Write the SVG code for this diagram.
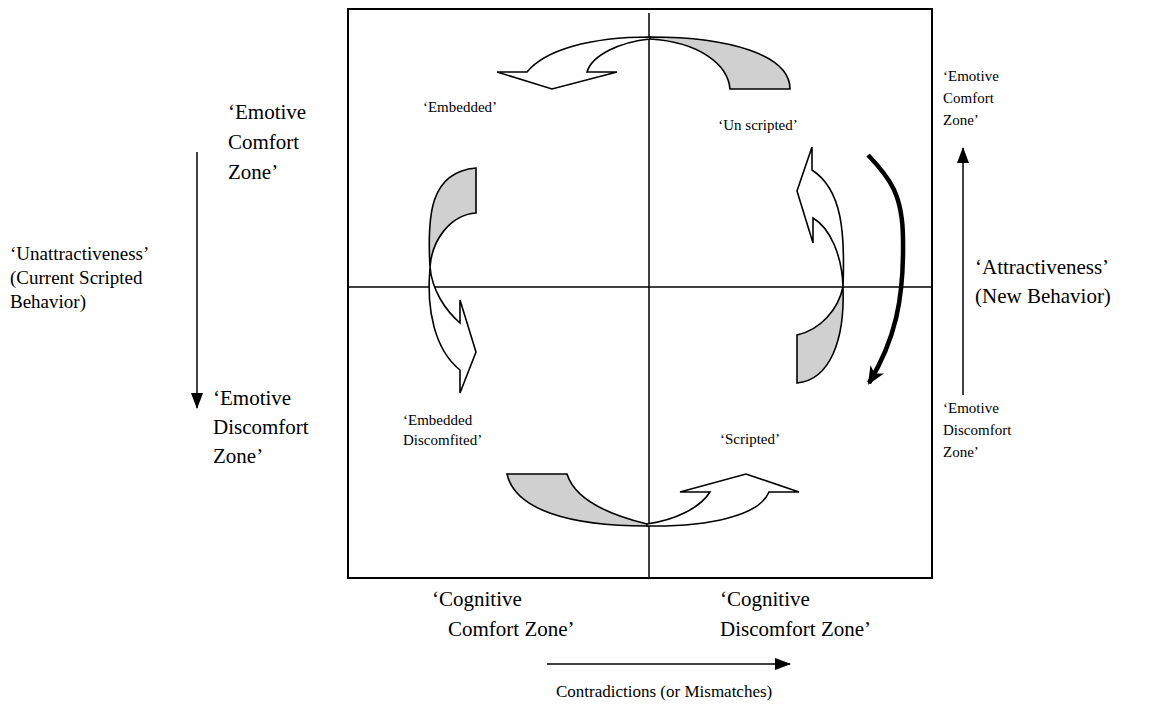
<svg xmlns="http://www.w3.org/2000/svg" width="1155" height="709" viewBox="0 0 1155 709" font-family="'Liberation Serif', 'Times New Roman', Times, 'DejaVu Serif', serif">
  <defs>
    <style>
      .frame { fill: none; stroke: #000; stroke-width: 2; }
      .axis { fill: none; stroke: #000; stroke-width: 1.5; }
      .body { fill: #fff; stroke: #000; stroke-width: 1.6; stroke-linejoin: miter; }
      .under { fill: #d0d0d0; stroke: #000; stroke-width: 1.6; }
      .flow { fill: none; stroke: #000; stroke-width: 1.5; }
      .thick { fill: none; stroke: #000; stroke-width: 4.5; stroke-linecap: butt; }
      text { font-family: 'Liberation Serif', 'Times New Roman', Times, 'DejaVu Serif', serif; fill: #000; }
      .big { font-size: 21px; }
      .mid { font-size: 19px; }
      .small { font-size: 15px; }
      .caption { font-size: 17px; }
    </style>
    <marker id="head" viewBox="0 0 16 12" refX="15" refY="6" markerWidth="16" markerHeight="12" markerUnits="userSpaceOnUse" orient="auto">
      <path d="M0,0 L16,6 L0,12 Z" fill="#000"/>
    </marker>
    <marker id="headThick" viewBox="0 0 18 16" refX="16" refY="8" markerWidth="18" markerHeight="16" markerUnits="userSpaceOnUse" orient="auto">
      <path d="M0,0 L18,8 L0,16 L5,8 Z" fill="#000"/>
    </marker>
  </defs>

  <rect width="1155" height="709" fill="#fff"/>

  <!-- quadrant frame and axes -->
  <g id="frame">
    <rect class="frame" x="348" y="9" width="584" height="569"/>
    <line class="axis" x1="649" y1="13" x2="649" y2="578"/>
    <line class="axis" x1="348" y1="287" x2="932" y2="287"/>
  </g>

  <!-- curved block arrows, one per quadrant transition -->
  <g id="arrow-top">
    <path class="under" d="M650,37 C730,37 790,55 790,89 L730,89 C728,65 700,42 650,39 Z"/>
    <path class="body" d="M650,37 C590,37 545,50 527,72 L497,72 L552,89 L617,72 L587,72 C592,55 620,42 650,39 Z"/>
  </g>
  <g id="arrow-left">
    <path class="under" d="M476,168 L476,213 C450,215 432,240 430,267 C427,215 430,172 476,168 Z"/>
    <path class="body" d="M430,267 C426,310 435,350 460,370 L460,393 L476,352 L460,300 L460,323 C445,310 432,290 430,267 Z"/>
  </g>
  <g id="arrow-bottom">
    <path class="under" d="M507,474 L567,474 C575,500 610,515 647,524 L647,526 C570,526 515,510 507,474 Z"/>
    <path class="body" d="M647,524 C675,520 700,508 710,492 L680,492 L746,474 L799,492 L769,492 C760,515 710,527 647,526 Z"/>
  </g>
  <g id="arrow-right">
    <path class="under" d="M843,287 C845,340 830,380 797,383 L797,335 C820,330 838,310 843,287 Z"/>
    <path class="body" d="M843,287 C845,235 843,190 812,170 L812,147 L797,191 L813,243 L813,218 C830,228 842,255 843,287 Z"/>
  </g>

  <!-- axis direction arrows -->
  <g id="connectors">
    <line class="flow" x1="197" y1="152" x2="197" y2="408" marker-end="url(#head)"/>
    <line class="flow" x1="963" y1="395" x2="963" y2="148" marker-end="url(#head)"/>
    <line class="flow" x1="547" y1="664" x2="790" y2="664" marker-end="url(#head)"/>
    <path class="thick" d="M868,155 C890,178 903,195 903,240 C904,300 895,340 869,383" marker-end="url(#headThick)"/>
  </g>

  <!-- quadrant labels -->
  <g id="quadrant-labels" class="small">
    <text x="460" y="112" text-anchor="middle">‘Embedded’</text>
    <text x="758" y="130" text-anchor="middle">‘Un scripted’</text>
    <text x="403" y="425">‘Embedded</text>
    <text x="403" y="445">Discomfited’</text>
    <text x="750" y="444" text-anchor="middle">‘Scripted’</text>
  </g>

  <!-- left side labels -->
  <g id="left-labels">
    <text class="big" x="228" y="119">‘Emotive</text>
    <text class="big" x="228" y="149">Comfort</text>
    <text class="big" x="228" y="179">Zone’</text>
    <text class="mid" x="10" y="260">‘Unattractiveness’</text>
    <text class="mid" x="10" y="284">(Current Scripted</text>
    <text class="mid" x="10" y="308">Behavior)</text>
    <text class="big" x="213" y="405">‘Emotive</text>
    <text class="big" x="213" y="434">Discomfort</text>
    <text class="big" x="213" y="463">Zone’</text>
  </g>

  <!-- right side labels -->
  <g id="right-labels">
    <text class="small" x="943" y="81">‘Emotive</text>
    <text class="small" x="943" y="103">Comfort</text>
    <text class="small" x="943" y="125">Zone’</text>
    <text class="big" x="975" y="274">‘Attractiveness’</text>
    <text class="big" x="975" y="303">(New Behavior)</text>
    <text class="small" x="943" y="413">‘Emotive</text>
    <text class="small" x="943" y="435">Discomfort</text>
    <text class="small" x="943" y="457">Zone’</text>
  </g>

  <!-- bottom labels -->
  <g id="bottom-labels">
    <text class="big" x="432" y="606">‘Cognitive</text>
    <text class="big" x="448" y="636">Comfort Zone’</text>
    <text class="big" x="720" y="606">‘Cognitive</text>
    <text class="big" x="720" y="636">Discomfort Zone’</text>
    <text class="caption" x="556" y="697">Contradictions (or Mismatches)</text>
  </g>
</svg>
